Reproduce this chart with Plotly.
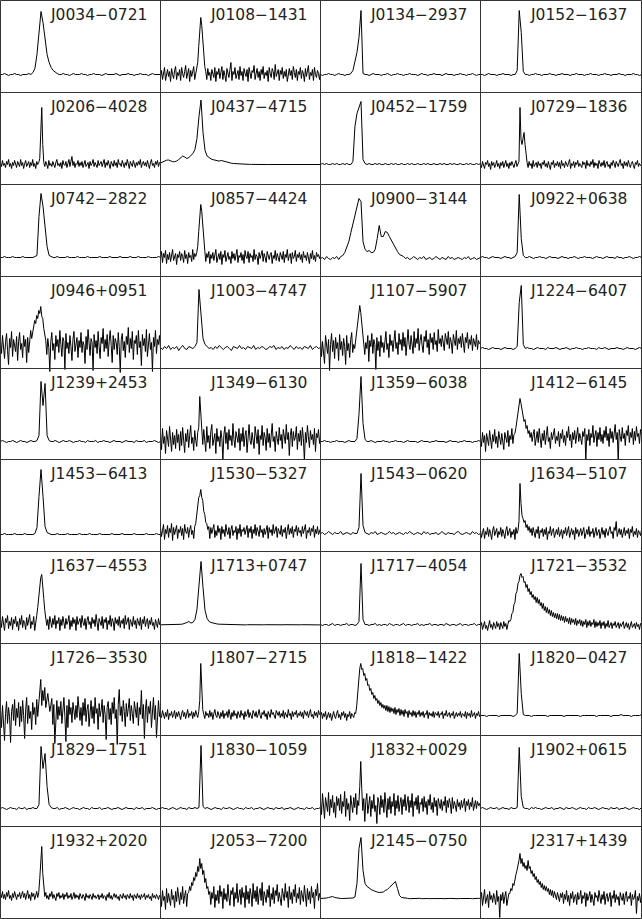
import plotly.graph_objects as go

# pulse profiles; heights in panel units (a panel is ~92 tall).
# clean profiles use 80 phase bins, noisy ones 160 so the noise looks as dense as the original
j0034_0721 = [18,18,19,18,17,18,18,19,18,18,17,18,18,18,19,18,20,24,38,62,
              81,70,52,38,30,25,22,20,19,18,18,19,18,18,17,18,19,18,18,18,
              19,18,18,17,18,18,19,18,18,18,17,18,19,18,18,18,18,19,18,17,
              18,18,18,19,18,18,17,18,18,19,18,18,18,17,18,19,18,18,18,18]
j0108_1431 = [15,22,13,20,25,12,19,23,16,21,11,24,18,14,22,26,13,20,17,23,
              12,25,19,15,21,27,14,18,24,11,22,16,20,26,13,19,24,30,46,64,
              75,67,51,36,26,21,13,24,17,20,12,23,19,15,25,11,21,18,24,14,
              20,26,13,22,17,11,24,19,15,23,30,12,21,18,25,14,20,22,13,26,
              17,21,12,24,19,16,23,11,25,18,14,22,20,27,13,19,24,15,21,12,
              23,18,26,14,20,17,22,11,25,19,15,24,21,13,28,16,20,23,12,22,
              18,25,14,21,16,23,11,19,24,17,22,13,26,20,15,23,12,21,18,25,
              14,22,19,11,24,16,21,27,13,20,17,23,12,25,18,15,22,19,13,21]
j0134_2937 = [18,17,18,18,19,18,18,17,18,19,18,18,17,18,18,19,22,30,40,55,
              82,19,18,18,17,18,19,18,18,18,17,18,18,19,18,17,18,18,19,18,
              18,17,18,18,19,18,18,18,17,18,19,18,18,17,18,18,19,18,18,18,
              17,18,19,18,18,18,17,18,18,19,18,18,17,18,18,19,18,17,18,18]
j0152_1637 = [18,18,17,18,19,18,18,18,17,18,18,19,18,18,18,17,18,18,22,82,
              60,21,18,18,17,18,18,19,18,18,17,18,18,18,19,18,18,17,18,18,
              19,18,18,18,17,18,18,19,18,18,18,17,18,18,19,18,18,18,17,18,
              18,19,18,18,17,18,18,18,19,18,18,17,18,18,18,19,18,18,17,18]
j0206_4028 = [22,18,24,19,21,17,23,20,25,18,21,16,22,19,24,20,17,23,21,18,
              25,19,22,16,21,24,18,20,23,17,22,19,25,18,21,16,23,20,22,26,
              45,77,40,22,18,23,20,16,24,19,21,18,23,20,17,22,25,19,21,18,
              22,16,24,20,19,23,17,21,25,18,22,28,19,23,17,21,20,24,18,22,
              19,23,17,21,24,18,20,22,16,23,19,21,25,18,22,20,17,24,19,21,
              23,18,21,25,17,22,19,24,20,16,23,21,18,24,19,22,17,25,20,21,
              18,24,20,17,22,19,25,21,16,23,20,18,24,21,17,22,19,23,20,25,
              17,21,23,19,22,18,24,20,16,22,25,19,21,17,23,20,24,18,22,21]
j0437_4715 = [21.5,22.5,23.5,24.3,24.5,23.5,22.8,22.8,23.5,25,27,28.5,27.5,26,27,29,31,35,46,68,
              84.5,52,34,28.5,26.5,25.5,24.8,24.2,23.6,23.4,24,23.4,22.6,22,21.6,21.3,21,20.8,20.6,20.5,
              20.4,20.3,20.2,20.2,20.1,20.1,20,20,20,20.1,20,20,19.9,20,20,20,20.1,20,20,19.9,
              20,20,20,20.1,20,20,19.9,20,20,20,20.1,20,20,20,19.9,20,20,20.1,20,20]
j0452_1759 = [20,21,20,21,20,20,21,20,21,20,20,21,20,21,20,20,23,58,71,76,
              83,25,21,20,21,20,20,21,20,21,20,20,21,20,20,21,20,21,20,20,
              21,20,20,21,20,21,20,20,21,20,20,21,20,21,20,20,21,20,20,21,
              20,21,20,20,21,20,21,20,20,21,20,20,21,20,21,20,20,21,20,21]
j0729_1836 = [21,17,23,19,16,22,20,24,18,21,15,23,19,22,17,20,24,18,21,16,
              22,19,23,17,20,24,18,21,16,22,19,23,20,17,21,24,18,20,23,77,
              45,40,48,52,40,28,22,17,23,19,21,16,24,18,20,22,17,23,19,21,
              16,22,20,24,18,21,17,23,19,15,22,20,24,17,21,19,23,18,22,16,
              24,19,21,17,23,20,18,22,25,16,21,19,23,17,22,20,24,18,21,19,
              17,23,20,22,16,24,19,21,18,23,20,25,17,22,19,21,16,24,20,18,
              22,19,24,17,21,23,18,20,16,22,19,24,21,17,23,20,18,22,25,19,
              21,16,23,19,22,18,24,20,17,21,23,19,16,22,20,24,18,21,19,20]
j0742_2822 = [19,19,20,19,19,19,20,19,19,19,19,20,19,19,19,19,19,20,21,60,
              83,70,52,30,21,20,19,19,20,19,19,19,19,20,19,19,19,19,20,19,
              19,19,19,20,19,19,19,19,19,20,19,19,19,19,20,19,19,19,19,20,
              19,19,19,19,20,19,19,19,20,19,19,19,19,20,19,19,19,19,20,19]
j0857_4424 = [18,25,14,23,19,26,13,22,17,24,15,21,27,16,20,23,12,22,19,25,
              16,23,20,14,26,18,22,13,24,19,21,15,27,17,23,20,24,30,45,62,
              72,65,48,33,26,15,23,19,25,13,22,18,24,16,21,27,14,20,23,17,
              25,12,22,19,26,15,21,24,17,20,13,25,18,23,16,22,27,14,21,19,
              24,16,22,13,26,20,18,25,14,23,19,21,15,27,17,22,20,12,24,18,
              21,26,15,23,19,14,25,20,17,22,24,13,21,18,26,16,23,19,15,24,
              20,17,25,14,22,19,27,16,21,23,13,24,18,20,26,15,22,19,24,17,
              22,14,25,19,21,16,24,20,13,23,18,26,17,21,15,24,20,22,18,21]
j0900_3144 = [18,19,17,20,18,17,19,18,20,17,20,21,24,29,35,44,53,62,70,78,
              75,35,27,25,26,24,24,27,38,51,40,40,45,44,40,36,32,28,25,22,
              21,20,18,19,17,18,20,18,17,19,18,20,17,18,19,17,18,20,18,17,
              19,18,17,20,18,19,17,18,19,18,17,19,18,20,17,18,19,17,18,19]
j0922p0638 = [19,20,19,19,18,19,20,19,19,19,18,19,20,19,19,18,19,20,24,82,
              38,21,19,19,20,19,18,19,19,20,19,19,18,19,20,19,19,19,18,19,
              20,19,19,18,19,19,20,19,18,19,19,20,19,19,19,18,19,20,19,19,
              18,19,20,19,19,19,18,20,19,19,18,19,19,20,19,18,19,19,20,19]
j0946p0951 = [28,15,33,20,10,26,35,18,4,30,21,37,12,29,24,17,32,8,27,36,
              19,25,11,33,22,29,6,31,16,26,38,30,36,42,48,45,53,50,58,55,
              62,52,50,40,35,28,14,30,21,-3,27,36,18,25,9,33,22,29,16,38,
              24,12,31,27,-1,35,20,26,15,33,22,8,29,37,17,25,31,11,28,21,
              36,16,27,23,5,32,19,39,24,13,30,26,-2,34,21,28,15,37,22,10,
              31,25,40,17,29,20,34,12,27,38,23,6,33,19,30,26,14,36,22,-4,
              29,35,18,27,11,32,24,41,16,30,20,37,9,28,25,33,14,38,21,27,
              3,34,23,30,17,39,12,28,35,19,26,-3,31,22,38,15,29,24,33,20]
j1003_4747 = [21,19,22,20,23,19,21,20,22,18,21,23,20,19,22,21,20,22,26,79,
              55,30,24,22,20,21,19,22,20,23,21,19,21,22,20,18,22,21,20,23,
              20,21,19,22,21,20,23,19,21,20,22,21,19,20,22,21,23,19,21,20,
              22,19,21,20,23,21,19,22,20,21,19,22,21,20,23,19,21,22,20,21]
j1107_5907 = [30,12,27,18,5,33,22,15,29,-2,24,35,17,28,10,31,20,26,8,34,
              19,27,13,30,22,4,33,18,25,11,29,36,16,24,20,30,38,46,55,63,
              56,45,36,30,14,26,20,33,7,28,22,35,15,29,24,-1,31,18,27,12,
              33,21,26,16,30,37,19,25,11,34,23,28,17,32,38,20,26,14,35,24,
              29,18,36,22,31,13,27,39,24,19,33,26,15,37,21,30,25,40,18,28,
              34,23,16,32,27,38,21,29,14,35,26,31,19,36,24,28,17,39,25,30,
              22,33,27,18,35,29,24,37,20,31,26,15,34,28,23,38,19,30,25,32,
              21,35,28,16,31,26,36,20,29,24,33,18,30,27,22,34,19,28,25,26]
j1224_6407 = [20,21,20,20,19,20,21,20,20,20,19,20,21,20,20,20,19,20,22,66,
              83,24,20,21,20,20,19,20,21,20,20,20,19,21,20,20,20,21,20,19,
              20,20,21,20,19,20,20,21,20,20,19,20,20,21,20,20,20,19,21,20,
              20,21,20,19,20,20,20,21,20,20,19,20,21,20,20,20,19,20,21,20]
j1239p2453 = [18,19,18,17,18,18,19,18,17,18,19,18,18,17,18,19,18,18,19,24,
              78,54,76,24,19,18,18,19,18,17,18,19,18,18,19,18,17,18,18,19,
              18,18,17,19,18,18,18,19,17,18,18,19,18,18,17,18,19,18,18,18,
              17,18,19,18,18,18,17,19,18,18,18,19,17,18,18,18,19,18,17,18]
j1349_6130 = [26,10,31,16,23,6,29,19,13,33,21,8,27,15,24,11,30,17,25,9,
              28,14,32,20,7,26,18,30,12,24,34,16,22,9,29,19,13,27,32,63,
              45,28,15,30,20,8,33,17,24,11,28,35,14,22,26,6,31,18,23,13,
              29,21,-1,25,33,16,27,10,30,19,24,14,36,20,12,28,23,17,31,9,
              26,18,32,13,24,29,7,22,35,19,15,27,21,11,33,25,16,30,5,24,
              20,34,14,27,22,9,31,17,26,12,29,36,18,23,8,28,21,15,32,19,
              25,11,30,23,16,35,20,27,4,24,31,13,28,19,22,33,10,26,18,29,
              14,32,21,-2,27,17,34,23,12,29,20,25,15,31,8,26,22,30,16,24]
j1359_6038 = [18,18,19,18,18,17,18,18,19,18,18,18,17,18,19,18,18,18,21,45,
              83,36,20,18,18,19,18,17,18,18,18,19,18,18,17,18,18,19,18,18,
              18,17,18,19,18,18,18,18,17,18,19,18,18,18,17,18,18,19,18,18,
              18,18,17,18,19,18,18,18,17,18,18,19,18,18,18,17,18,18,19,18]
j1412_6145 = [22,13,27,17,24,8,26,19,14,29,21,11,25,18,30,16,23,12,28,20,
              15,26,19,10,27,22,17,29,13,24,20,31,16,25,26,32,40,50,58,61,
              56,49,45,38,40,31,34,26,29,22,27,18,25,30,14,23,28,17,31,21,
              12,26,19,29,15,24,33,18,22,11,27,20,25,31,16,23,19,28,13,26,
              21,30,17,24,14,28,22,33,19,25,12,27,20,29,16,23,32,18,26,21,
              15,28,23,31,-1,25,19,30,14,26,22,34,17,24,29,13,27,20,32,18,
              25,16,29,22,33,19,26,13,31,21,28,17,24,35,20,27,-2,30,23,18,
              32,21,26,14,29,24,34,17,27,22,31,15,28,19,33,23,26,16,30,24]
j1453_6413 = [17,17,18,17,17,17,17,18,17,17,17,17,18,17,17,17,17,18,24,55,
              82,55,25,19,18,17,17,17,18,17,17,17,17,18,17,17,17,17,17,18,
              17,17,17,17,18,17,17,17,17,18,17,17,17,17,17,18,17,17,17,17,
              18,17,17,17,17,17,18,17,17,17,17,17,18,17,17,17,17,18,17,17]
j1530_5327 = [24,15,21,27,12,22,18,26,14,23,19,28,11,24,17,21,26,13,22,19,
              25,16,23,12,27,20,18,24,14,22,26,17,21,13,25,28,37,42,54,56,
              62,54,51,40,37,29,28,22,25,13,24,18,22,27,14,21,16,26,19,23,
              12,25,18,22,15,27,20,17,24,13,22,26,16,21,19,25,12,23,18,27,
              15,22,20,24,17,21,26,14,23,19,25,13,22,18,27,16,24,20,15,26,
              19,22,14,23,17,21,26,13,24,19,22,16,27,18,21,25,14,23,20,17,
              26,15,22,19,24,13,21,27,17,23,18,25,14,22,20,26,16,24,19,21,
              15,25,18,22,27,13,21,19,24,16,23,20,26,14,22,18,25,17,21,23]
j1543_0620 = [18,19,17,18,20,18,17,19,18,18,20,17,18,19,18,17,19,18,18,24,
              78,26,19,18,17,19,18,20,17,18,19,18,17,18,20,18,19,17,18,19,
              18,17,19,18,20,18,17,18,19,18,17,20,18,19,17,18,18,19,17,18,
              20,18,17,19,18,18,17,19,20,18,17,18,19,18,17,20,18,19,17,18]
j1634_5107 = [21,14,19,23,13,20,17,24,15,22,18,12,21,25,16,19,23,14,20,17,
              24,15,22,18,13,21,25,16,19,23,14,20,17,22,12,24,18,21,30,68,
              48,36,33,29,31,24,27,21,25,19,23,16,24,20,14,22,18,25,13,21,
              19,23,15,22,17,24,12,20,18,25,16,21,23,14,19,22,17,24,15,20,
              22,13,21,18,24,16,20,25,14,19,23,17,21,12,24,18,22,15,20,23,
              16,21,24,13,19,22,17,25,15,20,18,23,14,21,24,16,19,22,13,20,
              24,17,21,14,23,19,16,22,25,18,20,13,24,21,30,15,19,23,17,22,
              14,20,24,16,21,18,23,13,22,19,25,15,20,17,23,14,21,19,16,22]
j1637_4553 = [24,16,27,19,13,25,21,28,15,22,18,26,14,24,20,27,17,22,13,25,
              19,28,16,23,21,14,26,18,24,29,15,22,19,27,13,24,28,36,48,58,
              66,69,60,45,33,26,18,24,14,27,21,16,25,19,28,15,23,20,26,13,
              24,18,27,21,15,25,19,22,28,14,23,17,26,20,24,13,27,19,22,25,
              16,28,21,18,25,14,23,27,19,22,15,26,20,24,17,29,21,13,25,22,
              18,27,15,24,21,26,14,23,19,28,17,25,22,13,26,20,24,18,27,16,
              23,20,25,15,28,19,22,26,14,24,21,17,27,19,23,15,25,22,18,26,
              14,24,20,27,17,22,25,15,23,19,26,18,21,14,24,20,16,25,19,22]
j1713p0747 = [18.7,18.7,18.8,18.7,18.7,18.8,18.8,18.9,19,19,19.2,19.5,20,21,22,20.5,21,24,34,62,
              82,56,33,25,22,21,20.3,19.8,19.5,19.3,19.2,19.1,19,19,19,18.9,18.9,18.9,18.8,18.8,
              18.8,18.7,18.6,18.8,18.7,18.7,18.6,18.8,18.7,18.7,18.6,18.7,18.8,18.7,18.6,18.7,18.8,18.7,18.7,18.6,
              18.7,18.8,18.7,18.6,18.7,18.7,18.8,18.7,18.6,18.7,18.8,18.7,18.7,18.6,18.7,18.8,18.7,18.7,18.6,18.7]
j1717_4054 = [19,18,19,19,18,19,20,18,19,19,18,19,19,20,18,19,19,18,19,22,
              80,24,19,19,18,19,19,20,18,19,18,19,19,18,20,19,18,19,19,18,
              19,20,18,19,19,18,19,19,20,18,19,18,19,19,20,18,19,19,18,19,
              19,18,20,19,18,19,19,18,19,20,18,19,19,18,19,19,20,18,19,19]
j1721_3532 = [17,21,14,19,22,15,18,13,20,23,16,19,14,21,18,15,22,17,20,14,
              21,18,15,22,17,20,14,19,23,22,24,30,31,39,41,50,52,60,62,68,
              70,66,67,61,62,56,59,52,55,49,52,46,49,44,47,41,46,40,44,38,
              41,35,40,33,37,31,36,30,34,28,33,27,31,26,30,25,30,24,29,23,
              28,23,27,21,27,22,25,20,26,19,25,21,24,19,25,18,23,20,24,18,
              23,17,22,19,24,16,22,18,23,17,21,19,24,16,22,17,21,18,23,15,
              21,18,22,15,20,17,23,16,19,21,15,20,18,22,16,19,21,15,20,17,
              19,22,15,18,21,16,20,14,19,22,16,18,20,15,21,17,19,14,20,18]
j1726_3530 = [25,8,30,16,-5,22,34,12,28,19,-7,24,31,15,36,10,27,18,33,9,
              29,14,35,20,-3,26,38,12,30,17,24,6,33,21,28,11,36,19,29,40,
              56,30,45,35,48,28,38,42,33,24,30,37,11,31,-8,25,35,16,29,20,
              34,12,27,38,19,-6,30,8,36,21,28,13,33,25,16,30,18,39,22,15,
              28,10,33,20,37,14,26,31,9,24,35,17,29,12,38,22,27,6,32,19,
              25,36,13,30,21,-4,28,34,16,27,11,33,22,38,17,26,-9,31,46,20,
              29,14,35,24,9,32,19,27,37,15,30,22,12,34,25,18,33,10,28,21,
              45,17,31,-3,26,36,13,29,22,34,8,27,38,16,30,-2,24,35,19,25]
j1807_2715 = [22,18,25,20,17,23,19,26,16,22,20,24,18,21,25,17,23,19,24,20,
              16,22,25,19,23,17,21,26,18,22,20,24,17,23,19,25,21,18,24,35,
              72,36,26,21,17,24,20,22,18,25,19,23,16,22,26,20,18,24,21,17,
              23,19,25,17,22,20,24,18,26,21,16,23,19,25,20,22,17,24,21,18,
              25,20,22,16,24,19,21,26,18,23,20,17,25,22,19,24,18,21,26,20,
              17,23,21,25,19,22,16,24,20,18,26,21,23,19,17,25,22,20,24,18,
              22,19,25,17,23,21,18,26,20,22,16,24,19,23,21,25,18,22,20,24,
              19,23,17,25,21,20,24,18,22,26,19,21,17,24,20,23,18,25,21,22]
j1818_1422 = [20,23,17,22,19,24,16,21,23,18,22,15,20,24,19,17,22,25,18,21,
              16,23,20,24,18,22,15,21,19,24,17,22,20,18,23,22,30,45,58,67,
              72,66,67,60,62,55,57,50,51,45,47,41,43,37,40,35,37,32,35,30,
              33,28,31,27,30,25,30,24,29,23,28,24,27,22,28,21,26,23,27,20,
              26,21,25,19,26,22,24,18,25,21,23,19,25,20,24,18,23,21,25,19,
              23,20,24,18,22,21,25,17,23,20,22,19,24,18,23,21,20,24,18,22,
              21,24,17,22,20,25,19,21,23,18,22,20,24,17,21,23,19,22,20,24,
              18,22,21,19,24,17,23,20,22,18,25,19,21,23,17,22,20,24,19,21]
j1820_0427 = [20,20,20,19,20,20,20,20,20,19,20,20,20,20,20,20,19,20,22,82,
              42,21,20,20,20,19,20,20,20,20,20,20,20,19,20,20,20,20,20,20,
              20,19,20,20,20,20,20,20,20,19,20,20,20,20,20,20,20,19,20,20,
              20,20,20,20,19,20,20,20,20,21,20,20,20,20,19,20,20,20,20,21]
j1829_1751 = [18,19,18,17,18,19,18,18,17,19,18,18,19,17,18,18,19,18,18,22,
              80,58,73,40,22,19,18,18,19,17,18,18,19,18,17,18,19,18,18,17,
              18,19,18,18,17,19,18,18,18,19,17,18,18,19,18,17,18,18,19,18,
              17,18,19,18,18,18,17,19,18,18,19,17,18,18,18,19,18,17,18,18]
j1830_1059 = [18,19,18,18,17,18,19,18,17,18,19,18,18,17,19,18,18,19,18,19,
              81,20,18,19,18,17,18,19,18,18,17,19,18,18,19,18,17,18,19,18,
              18,17,19,18,18,19,17,18,18,19,18,17,18,19,18,18,17,19,18,18,
              19,17,18,18,19,18,17,18,19,18,18,17,19,18,18,19,17,18,18,19]
j1832p0029 = [26,12,33,18,8,29,22,15,34,11,27,19,31,14,24,9,30,21,28,16,
              32,13,25,20,35,10,28,17,23,6,31,24,14,29,19,33,12,26,21,40,
              65,38,16,28,5,25,33,13,23,30,10,26,18,32,15,21,3,29,24,12,
              31,19,27,14,34,22,9,28,17,30,13,25,20,33,11,26,18,31,15,23,
              29,12,27,20,32,16,24,30,14,26,19,33,10,25,21,29,17,31,13,24,
              22,28,15,30,19,25,12,27,21,32,17,24,14,29,20,26,11,28,23,18,
              27,16,25,21,30,14,26,19,28,23,13,29,18,25,21,15,27,20,24,17,
              26,19,23,28,15,25,21,27,17,24,20,29,16,22,26,18,25,21,23,19]
j1902p0615 = [18,19,18,17,18,19,18,18,19,17,18,19,18,18,17,19,18,18,19,79,
              30,19,18,18,17,19,18,19,18,18,17,18,19,18,18,19,17,18,18,19,
              18,17,19,18,18,19,18,17,18,19,18,18,17,19,18,18,19,18,17,18,
              19,18,18,17,19,18,18,19,17,18,18,19,18,17,18,19,18,18,17,19]
j1932p2020 = [25,21,27,20,24,19,26,22,28,20,23,18,25,21,27,22,19,24,22,26,
              20,24,27,21,25,19,23,28,20,24,18,26,22,25,19,23,27,21,26,40,
              62,72,45,27,22,26,20,23,19,25,22,27,20,24,21,18,25,22,26,20,
              23,21,25,19,24,22,26,20,23,21,25,19,22,26,20,24,21,23,19,25,
              22,20,24,22,18,25,21,23,20,24,22,19,25,21,23,20,22,24,19,23,
              21,25,20,23,22,18,24,21,26,20,23,19,22,25,21,24,20,22,18,24,
              22,20,25,21,23,19,24,22,20,25,21,23,18,24,22,20,25,21,23,19,
              24,21,22,25,19,23,21,24,20,22,18,25,21,23,20,24,22,19,23,21]
j2053_7200 = [24,12,28,18,22,9,30,16,25,20,13,29,19,23,11,27,17,31,21,14,
              26,19,32,15,23,28,12,25,26,32,28,36,33,41,38,46,42,52,47,60,
              50,55,44,48,36,40,30,32,24,27,14,26,20,32,11,24,18,28,15,33,
              22,27,10,30,19,25,17,34,21,13,28,24,31,12,26,20,35,16,23,29,
              14,31,21,26,11,33,19,27,15,30,24,12,35,20,28,17,32,14,25,30,
              18,36,13,27,22,16,29,21,33,12,25,19,31,15,28,23,34,17,26,20,
              13,30,24,18,35,21,27,11,32,19,26,15,29,22,34,16,25,20,31,14,
              28,22,17,33,24,12,30,19,27,15,32,21,26,10,29,23,35,18,25,20]
j2145_0750 = [20,20,20.5,20.5,21,21.5,22,21,20.5,20,20,20,20,20,20,20,20.5,21.5,35,70,
              81,48,35,32,30,29,28,27,26.5,26,26,26.5,28,29,31,33,35,37,30,23,
              21,20.5,20,20.2,19.8,20,20.3,19.9,20,20.2,19.8,20,20.1,20,19.8,20.2,20,19.9,20.1,20,
              20,19.8,20.2,20,20.1,19.9,20,20.2,19.8,20,20.1,20,19.9,20.2,20,19.8,20.1,20,20.2,19.9]
j2317p1439 = [18,26,13,22,29,15,21,24,11,27,19,23,16,25,20,14,28,17,22,1,
              24,18,26,15,22,27,13,20,25,25,30,28,35,33,40,44,48,52,58,65,
              55,60,52,56,50,53,48,58,50,52,45,48,42,45,39,42,36,39,34,37,
              31,35,29,33,28,32,27,30,24,29,23,28,21,27,24,19,26,22,17,25,
              21,26,15,24,19,28,17,23,13,25,20,27,16,22,24,14,26,19,21,28,
              15,23,20,26,12,25,18,22,27,16,24,19,13,26,21,23,17,28,20,15,
              24,19,27,14,22,25,17,21,26,12,23,20,28,16,24,19,22,13,26,21,
              18,25,14,23,27,17,22,20,26,13,24,19,21,28,5,22,18,25,16,23]

names = ["J0034−0721", "J0108−1431", "J0134−2937", "J0152−1637",
         "J0206−4028", "J0437−4715", "J0452−1759", "J0729−1836",
         "J0742−2822", "J0857−4424", "J0900−3144", "J0922+0638",
         "J0946+0951", "J1003−4747", "J1107−5907", "J1224−6407",
         "J1239+2453", "J1349−6130", "J1359−6038", "J1412−6145",
         "J1453−6413", "J1530−5327", "J1543−0620", "J1634−5107",
         "J1637−4553", "J1713+0747", "J1717−4054", "J1721−3532",
         "J1726−3530", "J1807−2715", "J1818−1422", "J1820−0427",
         "J1829−1751", "J1830−1059", "J1832+0029", "J1902+0615",
         "J1932+2020", "J2053−7200", "J2145−0750", "J2317+1439"]

profiles = [j0034_0721, j0108_1431, j0134_2937, j0152_1637,
            j0206_4028, j0437_4715, j0452_1759, j0729_1836,
            j0742_2822, j0857_4424, j0900_3144, j0922p0638,
            j0946p0951, j1003_4747, j1107_5907, j1224_6407,
            j1239p2453, j1349_6130, j1359_6038, j1412_6145,
            j1453_6413, j1530_5327, j1543_0620, j1634_5107,
            j1637_4553, j1713p0747, j1717_4054, j1721_3532,
            j1726_3530, j1807_2715, j1818_1422, j1820_0427,
            j1829_1751, j1830_1059, j1832p0029, j1902p0615,
            j1932p2020, j2053_7200, j2145_0750, j2317p1439]

W, H = 642, 919
col_edges = [0.5, 160.5, 320.5, 480.5, 641.5]
row_edges = [0.5, 92.5, 184.5, 276.5, 368.5, 459.5, 551.5, 643.5, 735.5, 826.5, 918.5]
PAD = 14  # noise spikes are allowed to run a bit below the frame

fig = go.Figure()

for k, (name, prof) in enumerate(zip(names, profiles)):
    r, c = divmod(k, 4)
    x0, x1 = col_edges[c], col_edges[c + 1]
    top, bot = row_edges[r], row_edges[r + 1]
    ext = min(PAD, H - bot)
    ax = "" if k == 0 else str(k + 1)

    fig.add_trace(go.Scatter(
        x=list(range(len(prof))), y=prof, mode="lines",
        line=dict(color="black", width=1),
        xaxis="x" + ax, yaxis="y" + ax,
        hoverinfo="skip", showlegend=False,
    ))
    fig.update_layout(**{
        "xaxis" + ax: dict(domain=[x0 / W, x1 / W], range=[0, len(prof) - 1],
                           visible=False, anchor="y" + ax, fixedrange=True),
        "yaxis" + ax: dict(domain=[max(0, 1 - (bot + ext) / H), 1 - top / H],
                           range=[-ext, bot - top],
                           visible=False, anchor="x" + ax, fixedrange=True),
    })
    fig.add_annotation(
        x=(x0 + 148) / W, y=1 - (top + 14.5) / H, xref="paper", yref="paper",
        text=name, showarrow=False, xanchor="right", yanchor="middle",
        font=dict(family="DejaVu Sans", size=15.5, color="#222"),
    )

# panel frames
for xe in col_edges:
    fig.add_shape(type="line", xref="paper", yref="paper",
                  x0=xe / W, x1=xe / W, y0=1 - row_edges[-1] / H, y1=1 - row_edges[0] / H,
                  line=dict(color="#333", width=1))
for ye in row_edges:
    fig.add_shape(type="line", xref="paper", yref="paper",
                  x0=col_edges[0] / W, x1=col_edges[-1] / W, y0=1 - ye / H, y1=1 - ye / H,
                  line=dict(color="#333", width=1))

fig.update_layout(
    width=W, height=H,
    margin=dict(l=0, r=0, t=0, b=0),
    paper_bgcolor="white", plot_bgcolor="white",
)

# drop the page's default 8px body margin so the grid sits at the window edge
fig.write_html("out.html", config={"displayModeBar": False},
               post_script="document.body.style.margin='0';")
